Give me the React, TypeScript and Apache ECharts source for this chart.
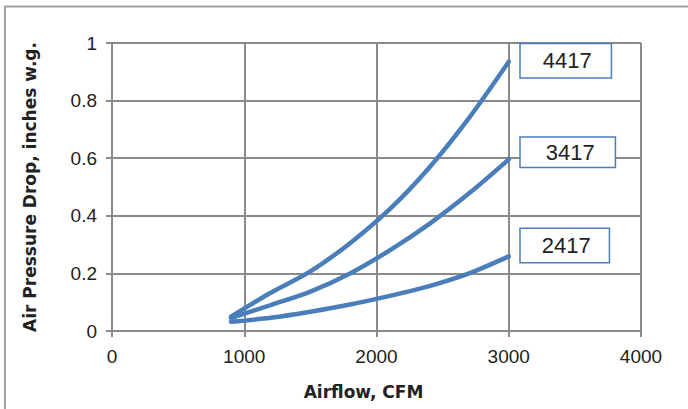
import React, { useEffect, useRef } from "react";
import * as echarts from "echarts";

const airflow = [900, 1200, 1500, 1800, 2100, 2400, 2700, 3000];
const drop4417 = [0.05, 0.133, 0.207, 0.305, 0.423, 0.568, 0.74, 0.935];
const drop3417 = [0.045, 0.09, 0.137, 0.2, 0.28, 0.372, 0.478, 0.596];
const drop2417 = [0.032, 0.046, 0.067, 0.092, 0.122, 0.156, 0.2, 0.259];
const seriesNames = ["4417", "3417", "2417"];
const xTicks = [0, 1000, 2000, 3000, 4000];
const yTicks = [0, 0.2, 0.4, 0.6, 0.8, 1];

const LINE = "#4a7ebb";
const GRID = "#8a8a8a";
const TEXT = "#222222";
const FONT = "Liberation Sans";

function pairs(xs: number[], ys: number[]) {
  return xs.map((x, i) => [x, ys[i]]);
}

export default function App() {
  const ref = useRef<HTMLDivElement>(null);
  useEffect(() => {
    if (!ref.current) return;
    const chart = echarts.init(ref.current, null, { renderer: "svg" });
    const labelOffsets = [
      [0, -1],
      [0, -7],
      [0, -11],
    ];
    const paddings = [
      [6, 19, 5, 22],
      [4, 20, 3, 25],
      [6, 18, 5, 21],
    ];
    const allData = [drop4417, drop3417, drop2417];
    chart.setOption({
      animation: false,
      backgroundColor: "#ffffff",
      graphic: [
        {
          type: "rect",
          shape: { x: 5, y: 6.5, width: 900, height: 600 },
          style: { fill: "none", stroke: "#a0a0a0", lineWidth: 2 },
          z: -1,
        },
      ],
      grid: { left: 112, top: 43, right: 47, bottom: 78 },
      xAxis: {
        type: "value",
        min: xTicks[0],
        max: xTicks[xTicks.length - 1],
        interval: 1000,
        name: "Airflow, CFM",
        nameLocation: "middle",
        nameGap: 52,
        nameTextStyle: {
          fontFamily: "DejaVu Sans",
          fontWeight: "bold",
          fontSize: 17,
          color: TEXT,
          padding: [0, 26, 0, 0],
        },
        axisLine: { show: true, lineStyle: { color: GRID, width: 2 } },
        axisTick: { show: true, length: 6, lineStyle: { color: GRID, width: 2 } },
        splitLine: { show: true, lineStyle: { color: GRID, width: 2 } },
        axisLabel: {
          fontFamily: FONT,
          fontSize: 19,
          color: TEXT,
          margin: 16,
          formatter: (v: number) => String(v),
        },
      },
      yAxis: {
        type: "value",
        min: yTicks[0],
        max: yTicks[yTicks.length - 1],
        interval: 0.2,
        name: "Air Pressure Drop, inches w.g.",
        nameLocation: "middle",
        nameGap: 74,
        nameTextStyle: {
          fontFamily: "DejaVu Sans",
          fontWeight: "bold",
          fontSize: 17,
          color: TEXT,
        },
        axisLine: { show: true, lineStyle: { color: GRID, width: 2 } },
        axisTick: { show: true, length: 6, lineStyle: { color: GRID, width: 2 } },
        splitLine: { show: true, lineStyle: { color: GRID, width: 2 } },
        axisLabel: {
          fontFamily: FONT,
          fontSize: 19,
          color: TEXT,
          margin: 15,
          formatter: (v: number) => String(Math.round(v * 10) / 10),
        },
      },
      series: seriesNames.map((name, i) => ({
        type: "line",
        name,
        data: pairs(airflow, allData[i]),
        smooth: 0.3,
        showSymbol: false,
        symbol: "none",
        lineStyle: { color: LINE, width: 4.5, cap: "round" },
        itemStyle: { color: LINE },
        endLabel: {
          show: true,
          formatter: "{a}",
          distance: 12,
          offset: labelOffsets[i],
          fontFamily: FONT,
          fontSize: 22,
          color: TEXT,
          backgroundColor: "#ffffff",
          borderColor: LINE,
          borderWidth: 1.5,
          padding: paddings[i],
        },
      })),
    });
    return () => chart.dispose();
  }, []);
  return (
    <div
      ref={ref}
      style={{ position: "fixed", left: 0, top: 0, width: 688, height: 409 }}
    />
  );
}
